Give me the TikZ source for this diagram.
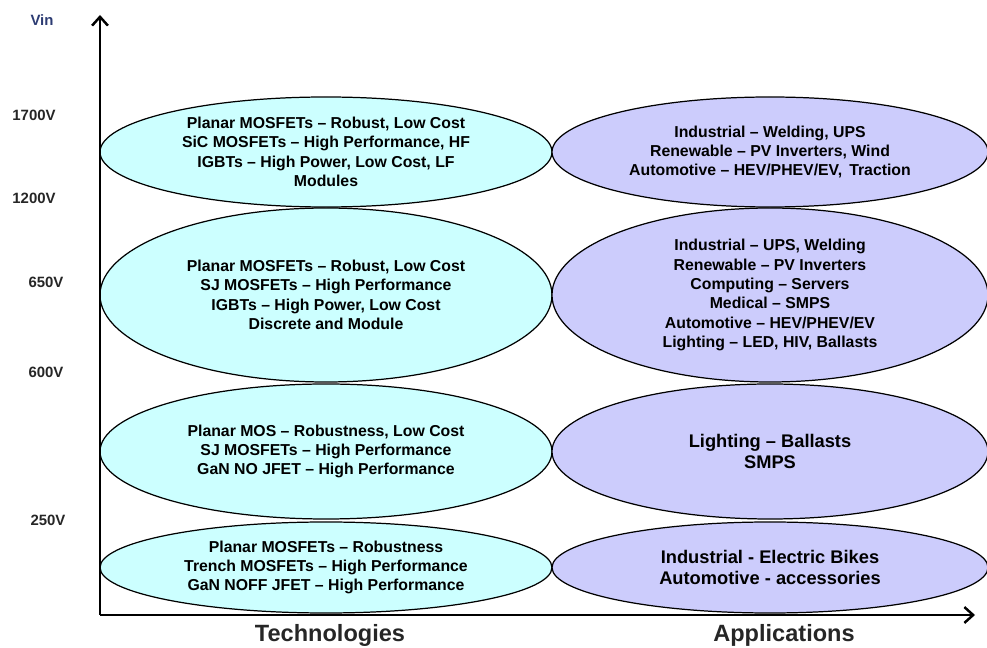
\documentclass[tikz,border=0pt]{standalone}
\usepackage{fontspec}
\setmainfont{Liberation Sans}
\usetikzlibrary{shapes.geometric, arrows.meta}

\definecolor{techcyan}{RGB}{204,255,255}
\definecolor{applavender}{RGB}{204,204,252}
\definecolor{vinblue}{RGB}{45,60,115}

\tikzset{
	techellipse/.style = {ellipse, draw, line width = 0.7pt, fill = techcyan, inner sep = 0pt, minimum width = 9.04cm, align = center, font = \bfseries\fontsize{9}{11}\selectfont},
	appellipse/.style = {ellipse, draw, line width = 0.7pt, fill = applavender, inner sep = 0pt, minimum width = 8.72cm, align = center, font = \bfseries\fontsize{9}{11}\selectfont},
	bigtext/.style = {font = \bfseries\fontsize{10.4}{12}\selectfont},
	voltlabel/.style = {font = \bfseries\fontsize{8.5}{10}\selectfont, text = black!85},
	axislabel/.style = {font = \bfseries\fontsize{13.4}{15}\selectfont, text = black!85},
	axis/.style = {line width = 1.4pt, -{Straight Barb[length = 5pt, width = 9pt]}}
}

\begin{document}
\begin{tikzpicture}
	 \useasboundingbox (0, 0) rectangle (19.74, 12.96);
	 
	 \coordinate (origin) at (2, 0.66);
	 \coordinate (ytop) at (2, 12.66);
	 \coordinate (xend) at (19.5, 0.66);
	 
	 % technologies column
	 \node[techellipse, minimum height = 2.2cm] (tech1700) at (6.52, 9.92) {Planar MOSFETs -- Robust, Low Cost\\SiC MOSFETs -- High Performance, HF\\IGBTs -- High Power, Low Cost, LF\\Modules};
	 \node[techellipse, minimum height = 3.48cm] (tech650) at (6.52, 7.06) {Planar MOSFETs -- Robust, Low Cost\\SJ MOSFETs -- High Performance\\IGBTs -- High Power, Low Cost\\Discrete and Module};
	 \node[techellipse, minimum height = 2.7cm] (tech600) at (6.52, 3.93) {Planar MOS -- Robustness, Low Cost\\SJ MOSFETs -- High Performance\\GaN NO JFET -- High Performance};
	 \node[techellipse, minimum height = 1.82cm] (tech250) at (6.52, 1.61) {Planar MOSFETs -- Robustness\\Trench MOSFETs -- High Performance\\GaN NOFF JFET -- High Performance};
	 
	 % applications column
	 \node[appellipse, minimum height = 2.2cm] (app1700) at (15.4, 9.92) {Industrial -- Welding, UPS\\Renewable -- PV Inverters, Wind\\Automotive -- HEV/PHEV/EV,\, Traction};
	 \node[appellipse, minimum height = 3.48cm] (app650) at (15.4, 7.06) {Industrial -- UPS, Welding\\Renewable -- PV Inverters\\Computing -- Servers\\Medical -- SMPS\\Automotive -- HEV/PHEV/EV\\Lighting -- LED, HIV, Ballasts};
	 \node[appellipse, bigtext, minimum height = 2.7cm] (app600) at (15.4, 3.93) {Lighting -- Ballasts\\SMPS};
	 \node[appellipse, bigtext, minimum height = 1.82cm] (app250) at (15.4, 1.61) {Industrial - Electric Bikes\\Automotive - accessories};
	 
	 % axes
	 \draw[axis] (origin) -- (ytop);
	 \draw[axis] (origin) -- (xend);
	 
	 \node[voltlabel, text = vinblue] (vin) at (0.84, 12.56) {Vin};
	 \foreach \volt/\x/\y in {1700/0.68/10.66, 1200/0.68/9.0, 650/0.92/7.32, 600/0.92/5.52, 250/0.96/2.56}
	 \node[voltlabel] (volt\volt) at (\x, \y) {\volt V};
	 
	 \node[axislabel] (technologies) at (6.6, 0.26) {Technologies};
	 \node[axislabel] (applications) at (15.68, 0.26) {Applications};
\end{tikzpicture}
\end{document}
